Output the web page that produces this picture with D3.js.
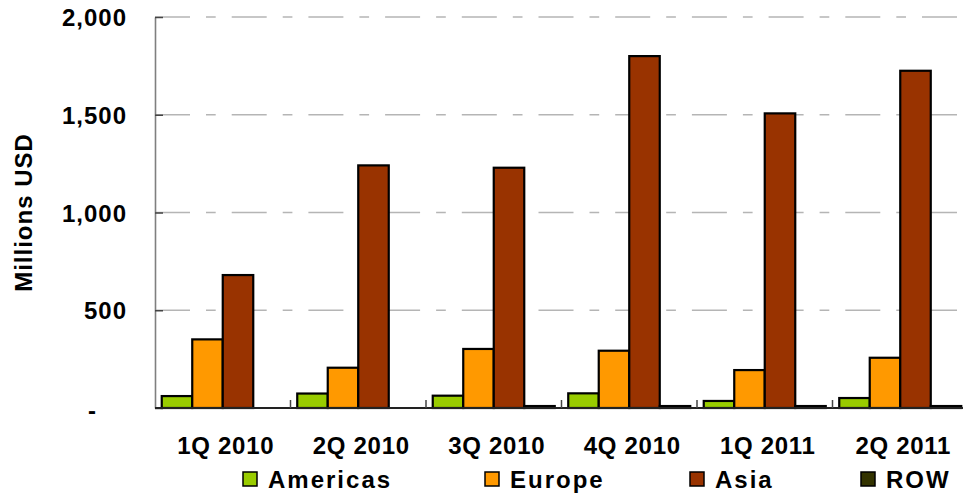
<!DOCTYPE html>
<html>
<head>
<meta charset="utf-8">
<script src="https://cdn.jsdelivr.net/npm/d3@7"></script>
<style>
  html, body { margin: 0; padding: 0; background: #fff; overflow: hidden; }
  svg { display: block; font-family: "Liberation Sans", Arial, sans-serif; font-weight: bold; }
</style>
</head>
<body>
<svg id="chart" width="963" height="493"></svg>
<script>
// Quarterly revenue by region, millions USD
const quarters = ["1Q 2010", "2Q 2010", "3Q 2010", "4Q 2010", "1Q 2011", "2Q 2011"];
const regions = ["Americas", "Europe", "Asia", "ROW"];
const americas = [61, 74, 63, 75, 36, 51];
const europe = [351, 206, 302, 293, 194, 257];
const asia = [680, 1241, 1229, 1800, 1507, 1725];
const row = [0, 0, 10, 10, 10, 10];
const yTicks = [0, 500, 1000, 1500, 2000];
const regionColors = ["#99CC00", "#FF9900", "#993300", "#333300"];

const seriesValues = [americas, europe, asia, row];
const rows = quarters.map((q, i) => ({
  quarter: q,
  values: regions.map((r, j) => ({ region: r, value: seriesValues[j][i] }))
}));

const svg = d3.select("#chart");
const plot = { left: 155, right: 968, top: 17, bottom: 408 };

const x = d3.scaleBand().domain(quarters).range([plot.left, plot.right]).paddingInner(0).paddingOuter(0);
const xInner = d3.scaleBand().domain(regions).range([0, x.bandwidth()]).paddingInner(0).paddingOuter(0.221);
const y = d3.scaleLinear().domain([0, 2000]).range([plot.bottom, plot.top]);
const color = d3.scaleOrdinal().domain(regions).range(regionColors);

// dash-dot gridlines
svg.append("g")
  .selectAll("line")
  .data(yTicks.filter(v => v > 0))
  .join("line")
  .attr("x1", plot.left).attr("x2", plot.right)
  .attr("y1", d => y(d)).attr("y2", d => y(d))
  .attr("stroke", "#b5b5b5")
  .attr("stroke-width", 1.5)
  .attr("stroke-dasharray", "35,16,9.7,16");

// value axis
const yAxis = svg.append("g")
  .attr("transform", `translate(${plot.left},0)`)
  .call(d3.axisLeft(y)
    .tickValues(yTicks)
    .tickSizeInner(-8)
    .tickSizeOuter(0)
    .tickPadding(28)
    .tickFormat(d => d === 0 ? "-" : d3.format(",")(d)));
yAxis.select(".domain").attr("stroke", "#7f7f7f").attr("stroke-width", 1.6);
yAxis.selectAll(".tick line").attr("stroke", "#444").attr("stroke-width", 1.5);
yAxis.selectAll(".tick text")
  .attr("fill", "#000")
  .style("font-size", "24px")
  .style("font-weight", "bold")
  .style("letter-spacing", "1px")
  .attr("dy", "0.36em");
yAxis.selectAll(".tick").filter(d => d === 0).select("text")
  .attr("x", -58).attr("dy", "0.42em");

// bars
const groups = svg.append("g")
  .selectAll("g")
  .data(rows)
  .join("g")
  .attr("transform", d => `translate(${x(d.quarter)},0)`);

groups.selectAll("rect")
  .data(d => d.values)
  .join("rect")
  .attr("x", d => xInner(d.region))
  .attr("width", xInner.bandwidth())
  .attr("y", d => y(d.value))
  .attr("height", d => y(0) - y(d.value))
  .attr("fill", d => color(d.region))
  .attr("stroke", "#000")
  .attr("stroke-width", 2.2);

// category axis
svg.append("line")
  .attr("x1", plot.left).attr("x2", plot.right)
  .attr("y1", y(0)).attr("y2", y(0))
  .attr("stroke", "#222").attr("stroke-width", 2);

svg.append("g")
  .selectAll("line")
  .data(quarters.slice(1))
  .join("line")
  .attr("x1", d => x(d)).attr("x2", d => x(d))
  .attr("y1", y(0)).attr("y2", y(0) - 8)
  .attr("stroke", "#444").attr("stroke-width", 1.5);

svg.append("g")
  .selectAll("text")
  .data(quarters)
  .join("text")
  .attr("x", d => x(d) + x.bandwidth() / 2 + 3)
  .attr("y", 454)
  .attr("text-anchor", "middle")
  .style("font-size", "24px")
  .style("letter-spacing", "0.7px")
  .text(d => d);

// axis title
svg.append("text")
  .attr("transform", `translate(32,${(plot.top + plot.bottom) / 2}) rotate(-90)`)
  .attr("text-anchor", "middle")
  .style("font-size", "24px")
  .style("letter-spacing", "1px")
  .text("Millions USD");

// legend
const legendX = [243, 485, 690, 861];
const legend = svg.append("g")
  .selectAll("g")
  .data(regions)
  .join("g")
  .attr("transform", (d, i) => `translate(${legendX[i]},472)`);

legend.append("rect")
  .attr("width", 14).attr("height", 14)
  .attr("fill", d => color(d))
  .attr("stroke", "#000").attr("stroke-width", 1.5);

legend.append("text")
  .attr("x", 25).attr("y", 15.5)
  .style("font-size", "24px")
  .style("letter-spacing", "2px")
  .text(d => d);
</script>
</body>
</html>
